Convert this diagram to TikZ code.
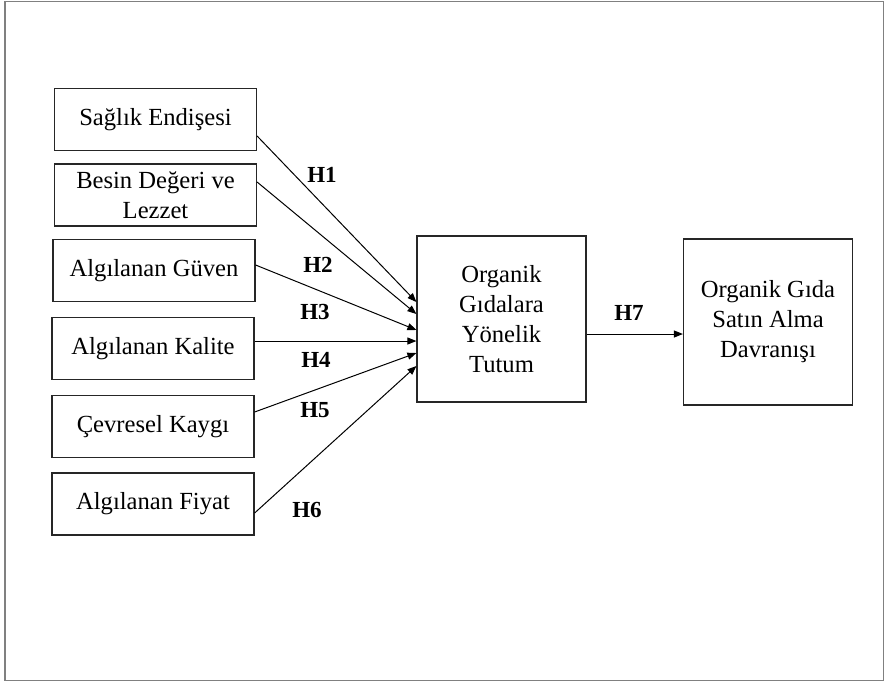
\documentclass[tikz,border=0pt]{standalone}
\usepackage{fontspec}
\setmainfont{Liberation Serif}
\usetikzlibrary{arrows.meta,positioning,calc}

\begin{document}
\begin{tikzpicture}[x=0.5pt,y=-0.5pt,
    var/.style={draw=black!85, line width=0.6pt, align=center, inner sep=0pt,
        font=\fontsize{12.3}{15}\selectfont},
    small/.style={var, minimum width=101pt, minimum height=31pt},
    big/.style={var, minimum width=84.5pt, minimum height=83pt},
    hyp/.style={font=\fontsize{11.5}{13}\selectfont\bfseries},
    link/.style={draw, line width=0.5pt, -{Triangle[length=4.5pt,width=3.5pt]}}]
\useasboundingbox (0,0) rectangle (886,682);
\draw[gray, line width=0.8pt] (5,1.5) rectangle (883.5,680.5);

\node[small] (b1) at (155.5,119.5) {Sağlık Endişesi};
\node[small] (b2) at (155.5,195) {Besin Değeri ve\\Lezzet};
\node[small] (b3) at (154,270.5) {Algılanan Güven};
\node[small] (b4) at (153,348.5) {Algılanan Kalite};
\node[small] (b5) at (153,426.5) {Çevresel Kaygı};
\node[small] (b6) at (153,504) {Algılanan Fiyat};
\node[big] (mid) at (501.5,319) {Organik\\Gıdalara\\Yönelik\\Tutum};
\node[big] (out) at (768,322) {Organik Gıda\\Satın Alma\\Davranışı};

\foreach \i/\a/\e in {1/16.5/-17, 2/-13/-5, 3/-5.5/11, 4/-7.5/22, 5/-14.5/34, 6/9/47}
    \draw[link] ($(b\i.east)+(0,\a)$) -- ($(mid.west)+(0,\e)$);
\draw[link] ($(mid.east)+(0,15)$) coordinate (m7) -- (m7 -| out.west);

\node[hyp] (h1) at (322,175) {H1};
\node[hyp] (h2) at (318,265) {H2};
\node[hyp] (h3) at (315,312) {H3};
\node[hyp] (h4) at (316,360) {H4};
\node[hyp] (h5) at (315,410) {H5};
\node[hyp] (h6) at (307,510) {H6};
\node[hyp] (h7) at (629,313) {H7};
\end{tikzpicture}
\end{document}
